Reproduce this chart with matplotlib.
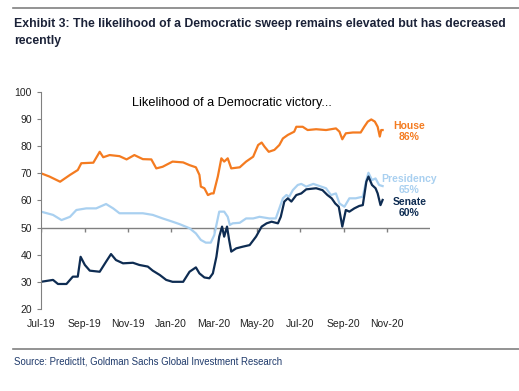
import pandas as pd
import matplotlib
matplotlib.use('Agg')
import matplotlib.pyplot as plt
import matplotlib.dates as mdates
from matplotlib.lines import Line2D

# --- data (PredictIt odds, %) ---
house_dates = ['2019-07-01', '2019-07-13', '2019-07-28', '2019-08-11', '2019-08-22', '2019-08-27',
               '2019-09-13', '2019-09-22', '2019-09-27', '2019-10-06', '2019-10-20', '2019-10-30',
               '2019-11-10', '2019-11-22', '2019-12-04', '2019-12-11', '2019-12-20', '2020-01-03',
               '2020-01-18', '2020-01-27', '2020-02-05', '2020-02-10', '2020-02-12', '2020-02-17',
               '2020-02-22', '2020-02-27', '2020-03-01', '2020-03-07', '2020-03-12', '2020-03-16',
               '2020-03-21', '2020-03-26', '2020-04-07', '2020-04-16', '2020-04-26', '2020-05-03',
               '2020-05-08', '2020-05-12', '2020-05-18', '2020-05-26', '2020-06-02', '2020-06-07',
               '2020-06-14', '2020-06-23', '2020-06-26', '2020-07-05', '2020-07-12', '2020-07-24',
               '2020-08-07', '2020-08-21', '2020-08-26', '2020-08-30', '2020-09-04', '2020-09-14',
               '2020-09-25', '2020-09-30', '2020-10-05', '2020-10-10', '2020-10-15', '2020-10-19',
               '2020-10-22', '2020-10-24', '2020-10-26']
house = [70, 68.8, 66.9, 69.4, 71.2, 73.7,
         73.9, 77.9, 75.9, 76.7, 76.3, 75.1,
         76.7, 75.2, 75.1, 71.8, 72.4, 74.3,
         74.0, 73.0, 72.2, 69.4, 65.1, 64.5,
         62.0, 62.6, 62.6, 68.8, 75.5, 74.3,
         75.5, 71.8, 72.2, 74.3, 76.1, 80.4,
         81.3, 79.8, 77.9, 78.6, 80.4, 82.8,
         84.1, 85.3, 87.1, 87.1, 85.9, 86.2,
         85.9, 86.5, 85.3, 82.5, 84.7, 85.0,
         85.0, 87.1, 89.0, 89.8, 89.0, 87.1,
         83.5, 85.9, 85.9]

pres_dates = ['2019-07-01', '2019-07-18', '2019-07-30', '2019-08-11', '2019-08-20', '2019-09-03',
              '2019-09-17', '2019-10-01', '2019-10-11', '2019-10-20', '2019-11-08', '2019-11-22',
              '2019-12-06', '2019-12-20', '2020-01-03', '2020-01-13', '2020-01-27', '2020-02-05',
              '2020-02-12', '2020-02-19', '2020-02-26', '2020-03-02', '2020-03-09', '2020-03-16',
              '2020-03-21', '2020-03-24', '2020-03-28', '2020-04-07', '2020-04-16', '2020-04-26',
              '2020-05-05', '2020-05-19', '2020-05-28', '2020-06-02', '2020-06-07', '2020-06-12',
              '2020-06-16', '2020-06-21', '2020-06-28', '2020-07-03', '2020-07-10', '2020-07-20',
              '2020-07-29', '2020-08-07', '2020-08-14', '2020-08-21', '2020-08-26', '2020-09-02',
              '2020-09-09', '2020-09-18', '2020-09-28', '2020-10-03', '2020-10-06', '2020-10-11',
              '2020-10-16', '2020-10-21', '2020-10-26']
presidency = [55.9, 54.7, 52.8, 54.0, 56.5, 57.1,
              57.1, 58.7, 57.1, 55.3, 55.3, 55.3,
              54.7, 53.4, 52.2, 51.3, 49.8, 47.9,
              45.5, 44.5, 44.5, 47.3, 55.9, 55.9,
              54.0, 51.0, 51.6, 51.8, 53.4, 53.4,
              54.0, 53.4, 53.4, 57.1, 60.8, 62.0,
              61.4, 63.8, 65.7, 66.1, 65.1, 66.1,
              65.3, 64.5, 62.0, 62.6, 58.9, 57.7,
              60.8, 60.8, 61.4, 67.5, 70.2, 67.5,
              68.1, 65.7, 65.3]

senate_dates = ['2019-07-01', '2019-07-18', '2019-07-25', '2019-08-06', '2019-08-15', '2019-08-22',
                '2019-08-26', '2019-09-01', '2019-09-08', '2019-09-22', '2019-10-01', '2019-10-08',
                '2019-10-15', '2019-10-25', '2019-11-08', '2019-11-17', '2019-11-29', '2019-12-06',
                '2019-12-16', '2019-12-25', '2020-01-03', '2020-01-18', '2020-01-27', '2020-02-05',
                '2020-02-10', '2020-02-17', '2020-02-24', '2020-02-29', '2020-03-05', '2020-03-09',
                '2020-03-13', '2020-03-16', '2020-03-20', '2020-03-23', '2020-03-26', '2020-04-02',
                '2020-04-11', '2020-04-21', '2020-04-30', '2020-05-08', '2020-05-15', '2020-05-22',
                '2020-05-31', '2020-06-04', '2020-06-09', '2020-06-14', '2020-06-19', '2020-06-26',
                '2020-07-03', '2020-07-10', '2020-07-24', '2020-08-02', '2020-08-09', '2020-08-15',
                '2020-08-20', '2020-08-25', '2020-08-30', '2020-09-04', '2020-09-09', '2020-09-16',
                '2020-09-23', '2020-09-28', '2020-10-03', '2020-10-06', '2020-10-11', '2020-10-16',
                '2020-10-19', '2020-10-23', '2020-10-26']
senate = [30.1, 30.8, 29.3, 29.3, 32.0, 32.0,
          39.3, 36.3, 34.2, 33.8, 37.5, 40.3,
          38.1, 36.9, 37.1, 36.3, 35.7, 34.2,
          32.6, 30.8, 30.1, 30.1, 33.8, 35.4,
          33.2, 31.7, 31.4, 33.2, 39.3, 46.7,
          50.4, 46.7, 50.4, 45.5, 41.2, 42.4,
          43.0, 43.6, 46.7, 50.4, 51.6, 52.2,
          51.6, 54.0, 59.6, 60.8, 59.6, 62.0,
          62.6, 64.1, 64.5, 63.8, 62.0, 60.8,
          58.9, 57.7, 50.4, 56.5, 55.9, 57.1,
          58.0, 58.3, 66.9, 68.8, 65.7, 64.5,
          62.6, 58.3, 60.2]

tick_months = pd.date_range('2019-07-01', '2020-11-01', freq='2MS')

ORANGE = '#F47B20'
LIGHT = '#A9D0F0'
NAVY = '#0E2C52'
GRAY = '#808080'
NARROW = ['Liberation Sans Narrow', 'DejaVu Sans Condensed', 'Liberation Sans']

fig = plt.figure(figsize=(5.19, 3.91), dpi=100)
ax = fig.add_axes([41 / 519, 0.209, 389 / 519, 0.5565])

ax.plot(pd.to_datetime(house_dates), house, color=ORANGE, lw=1.6)
ax.plot(pd.to_datetime(pres_dates), presidency, color=LIGHT, lw=1.6)
ax.plot(pd.to_datetime(senate_dates), senate, color=NAVY, lw=1.6)

x0, x1 = pd.Timestamp('2019-07-01'), pd.Timestamp('2021-01-01')
ax.set_xlim(x0, x1)
ax.set_ylim(20, 100)

# axis line at 50 with small tick marks
ax.axhline(50, color=GRAY, lw=1, zorder=0)
ax.vlines(tick_months, 48.5, 50, color=GRAY, lw=1, zorder=0)

for s in ['top', 'right', 'bottom']:
    ax.spines[s].set_visible(False)
ax.spines['left'].set_color(GRAY)
ax.set_yticks(range(20, 101, 10))
ax.tick_params(axis='y', colors=GRAY, length=3, labelcolor='#222222', labelsize=7.5)
ax.set_xticks(tick_months)
ax.xaxis.set_major_formatter(mdates.DateFormatter('%b-%y'))
ax.tick_params(axis='x', length=0, pad=7, labelcolor='#222222', labelsize=7.5)
for lbl in ax.get_xticklabels() + ax.get_yticklabels():
    lbl.set_fontfamily('Liberation Sans')

ax.text(0.235, 0.95, 'Likelihood of a Democratic victory...', transform=ax.transAxes,
        fontsize=9.2, family='Liberation Sans', color='black', va='center')

lab = dict(fontsize=7.5, fontweight='bold', family='Liberation Sans', ha='center',
           va='center', linespacing=1.1)
ax.text(pd.Timestamp('2020-12-03'), 85.4, 'House\n86%', color=ORANGE, **lab)
ax.text(pd.Timestamp('2020-12-03'), 65.9, 'Presidency\n65%', color=LIGHT, **lab)
ax.text(pd.Timestamp('2020-12-03'), 57.4, 'Senate\n60%', color=NAVY, **lab)

# header / footer
fig.add_artist(Line2D([13 / 519, 1], [1 - 8 / 391] * 2, color=GRAY, lw=1.2))
fig.add_artist(Line2D([13 / 519, 1], [1 - 349 / 391] * 2, color=GRAY, lw=1.2))
title = fig.text(14 / 519, 1 - 32.5 / 391,
                 'Exhibit 3: The likelihood of a Democratic sweep remains elevated but has decreased\nrecently',
                 fontsize=10.5, fontweight='bold', family=NARROW,
                 color='#1b2238', va='center', ha='left', linespacing=1.55)
source = fig.text(14 / 519, 1 - 361 / 391, 'Source: PredictIt, Goldman Sachs Global Investment Research',
                  fontsize=7.5, family=NARROW, color='#1F3A6B', va='center', ha='left')

# fit the header/footer widths to the reference
fig.canvas.draw()
r = fig.canvas.get_renderer()
for t, target in [(title, 492), (source, 270)]:
    w = t.get_window_extent(r).width
    t.set_fontsize(t.get_fontsize() * target / w)

fig.savefig('out.png', dpi=100)
